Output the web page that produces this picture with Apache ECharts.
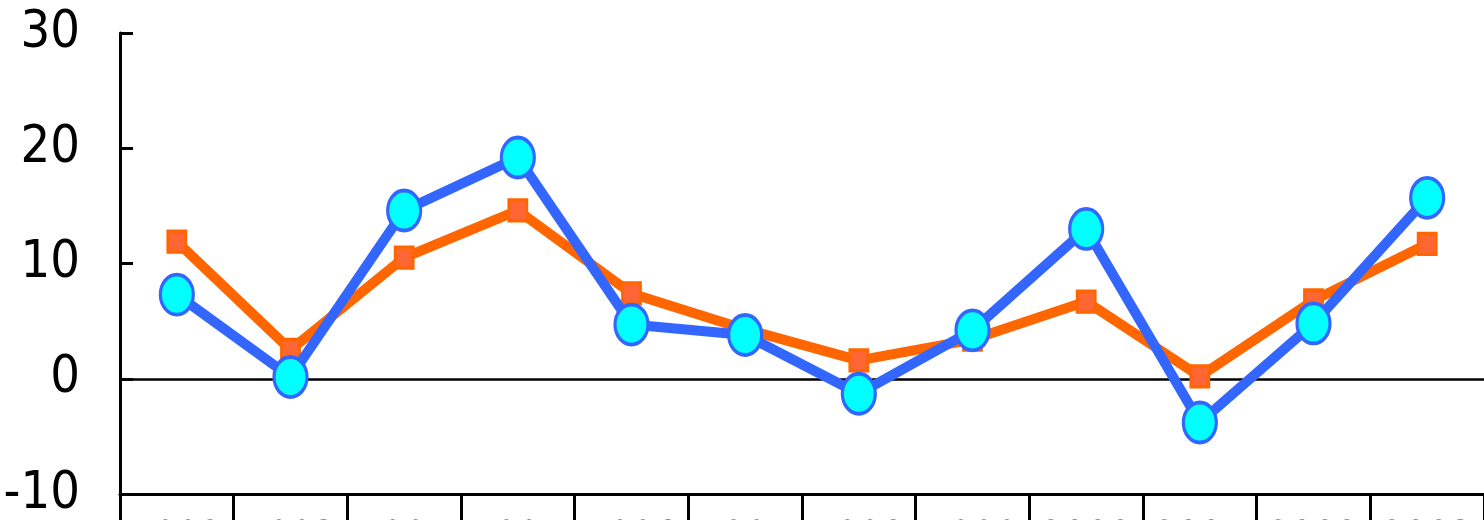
<!DOCTYPE html>
<html><head><meta charset="utf-8">
<script src="https://cdn.jsdelivr.net/npm/echarts@6/dist/echarts.min.js"></script>
<style>html,body{margin:0;padding:0;background:#fff}#c{width:1484px;height:520px}</style>
</head><body><div id="c"></div>
<script>
const categories = ['1992','1993','1994','1995','1996','1997','1998','1999','2000','2001','2002','2003'];
const blueValues = [7.3, 0.15, 14.6, 19.2, 4.7, 3.8, -1.3, 4.2, 13.0, -3.8, 4.8, 15.7];
const orangeValues = [11.9, 2.5, 10.5, 14.6, 7.4, 4.3, 1.6, 3.4, 6.7, 0.2, 6.8, 11.7];
const yMin = -10, yMax = 30, yStep = 10;

const FONT = '"Liberation Sans Narrow","DejaVu Sans Condensed","Liberation Sans",sans-serif';
const chart = echarts.init(document.getElementById('c'), null, {renderer: 'canvas'});
chart.setOption({
  animation: false,
  backgroundColor: '#ffffff',
  grid: {left: 120, right: 0, top: 33, bottom: 26, containLabel: false, outerBoundsMode: 'none'},
  xAxis: {
    type: 'category', data: categories, boundaryGap: true,
    axisLine: {show: true, onZero: false, lineStyle: {color: '#000', width: 3}},
    axisTick: {show: true, inside: false, interval: 0, length: 40, lineStyle: {color: '#000', width: 3}},
    axisLabel: {show: true, interval: 0, margin: 26, color: '#000', fontFamily: FONT, fontSize: 40, lineHeight: 40},
    splitLine: {show: false}
  },
  yAxis: {
    type: 'value', min: yMin, max: yMax, interval: yStep,
    axisLine: {show: true, lineStyle: {color: '#000', width: 3}},
    axisTick: {show: true, inside: true, length: 13, lineStyle: {color: '#000', width: 3}},
    axisLabel: {margin: 40, color: '#000', fontFamily: FONT, fontSize: 52},
    splitLine: {show: false}
  },
  series: [
    {
      type: 'line', data: orangeValues, z: 2,
      lineStyle: {color: '#FF6600', width: 10},
      symbol: 'rect', symbolSize: [18, 21], showAllSymbol: true,
      itemStyle: {color: '#FF6633', borderColor: '#FF6600', borderWidth: 3},
      markLine: {silent: true, symbol: 'none', label: {show: false},
        lineStyle: {color: '#000', width: 2.5, type: 'solid'}, data: [{yAxis: 0}], z: 1}
    },
    {
      type: 'line', data: blueValues, z: 3,
      lineStyle: {color: '#3366FF', width: 10},
      symbol: 'circle', symbolSize: [33, 40], showAllSymbol: true,
      itemStyle: {color: '#00FFFF', borderColor: '#3366FF', borderWidth: 3.5}
    }
  ]
});
</script></body></html>
